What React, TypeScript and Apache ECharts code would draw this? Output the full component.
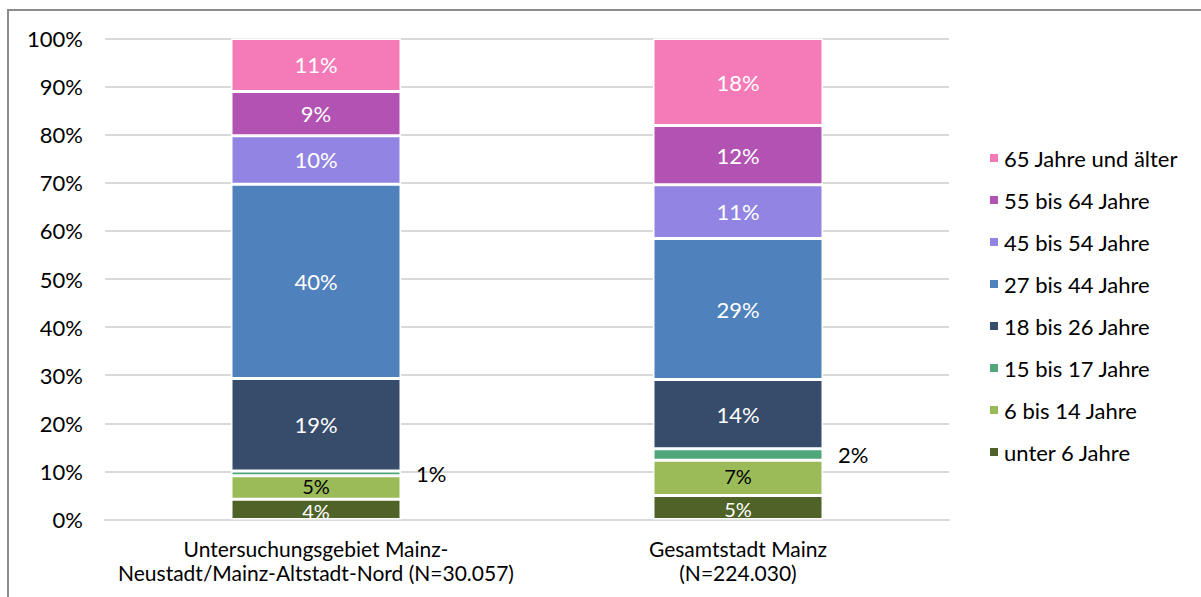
import React, { useEffect, useRef } from "react";
import * as echarts from "echarts";

const categories = [
  "Untersuchungsgebiet Mainz-\nNeustadt/Mainz-Altstadt-Nord (N=30.057)",
  "Gesamtstadt Mainz\n(N=224.030)",
];

const ageGroups = [
  "unter 6 Jahre",
  "6 bis 14 Jahre",
  "15 bis 17 Jahre",
  "18 bis 26 Jahre",
  "27 bis 44 Jahre",
  "45 bis 54 Jahre",
  "55 bis 64 Jahre",
  "65 Jahre und älter",
];

const unter6 = [4.2, 5.0];
const j6bis14 = [4.9, 7.3];
const j15bis17 = [1.0, 2.4];
const j18bis26 = [19.2, 14.4];
const j27bis44 = [40.4, 29.3];
const j45bis54 = [10.1, 11.2];
const j55bis64 = [9.2, 12.3];
const j65plus = [11.0, 18.1];

const seriesValues = [unter6, j6bis14, j15bis17, j18bis26, j27bis44, j45bis54, j55bis64, j65plus];

const colors = ["#4f6228", "#9bbb59", "#4ea67a", "#374c6a", "#4f81bd", "#9184e2", "#b252b2", "#f47ab8"];

const yTicks = [0, 10, 20, 30, 40, 50, 60, 70, 80, 90, 100];

const FONT = "Lato";

export default function App() {
  const ref = useRef<HTMLDivElement>(null);
  useEffect(() => {
    document.body.style.margin = "0";
    if (!ref.current) return;
    const chart = echarts.init(ref.current, undefined, { renderer: "svg" });
    const series = ageGroups.map((name, i) => {
      const isOutside = i === 2;
      const isDarkText = i === 1;
      const isSmall = i <= 1;
      return {
        name,
        type: "bar",
        stack: "total",
        barWidth: 170,
        data: seriesValues[i],
        itemStyle: { color: colors[i], borderColor: "#ffffff", borderWidth: 1.5 },
        label: {
          show: true,
          position: isOutside ? "right" : "inside",
          distance: 15,
          offset: i === 0 ? [0, 2] : i === 1 ? [0, -2] : [0, 0],
          color: isOutside || isDarkText ? "#000000" : "#ffffff",
          fontFamily: FONT,
          fontSize: isSmall ? 20 : 22,
          formatter: (p: any) => Math.round(p.value) + "%",
        },
      };
    });
    chart.setOption({
      animation: false,
      textStyle: { fontFamily: FONT },
      graphic: [
        {
          type: "rect",
          shape: { x: 8, y: 10, width: 1400, height: 900 },
          style: { fill: "none", stroke: "#8c8c8c", lineWidth: 2 },
          silent: true,
          z: 100,
        },
      ],
      grid: { left: 105, right: 252, top: 38.5, bottom: 77.5, containLabel: false },
      legend: {
        orient: "vertical",
        left: 988,
        top: 147,
        padding: 0,
        data: [...ageGroups].reverse(),
        icon: "rect",
        itemWidth: 10,
        itemHeight: 10,
        itemGap: 20,
        textStyle: { fontFamily: FONT, fontSize: 22, color: "#000000", lineHeight: 22 },
        selectedMode: false,
      },
      xAxis: {
        type: "category",
        data: categories,
        axisTick: { show: false },
        axisLine: { lineStyle: { color: "#d9d9d9", width: 2 } },
        axisLabel: {
          fontFamily: FONT,
          fontSize: 21,
          color: "#000000",
          lineHeight: 24,
          margin: 17,
          interval: 0,
        },
      },
      yAxis: {
        type: "value",
        min: yTicks[0],
        max: yTicks[yTicks.length - 1],
        interval: 10,
        axisLine: { show: false },
        axisTick: { show: false },
        splitLine: { lineStyle: { color: "#d9d9d9", width: 2 } },
        axisLabel: {
          fontFamily: FONT,
          fontSize: 22,
          color: "#000000",
          margin: 22,
          formatter: "{value}%",
        },
      },
      series,
    });
    return () => chart.dispose();
  }, []);
  return <div ref={ref} style={{ width: 1201, height: 597 }} />;
}
